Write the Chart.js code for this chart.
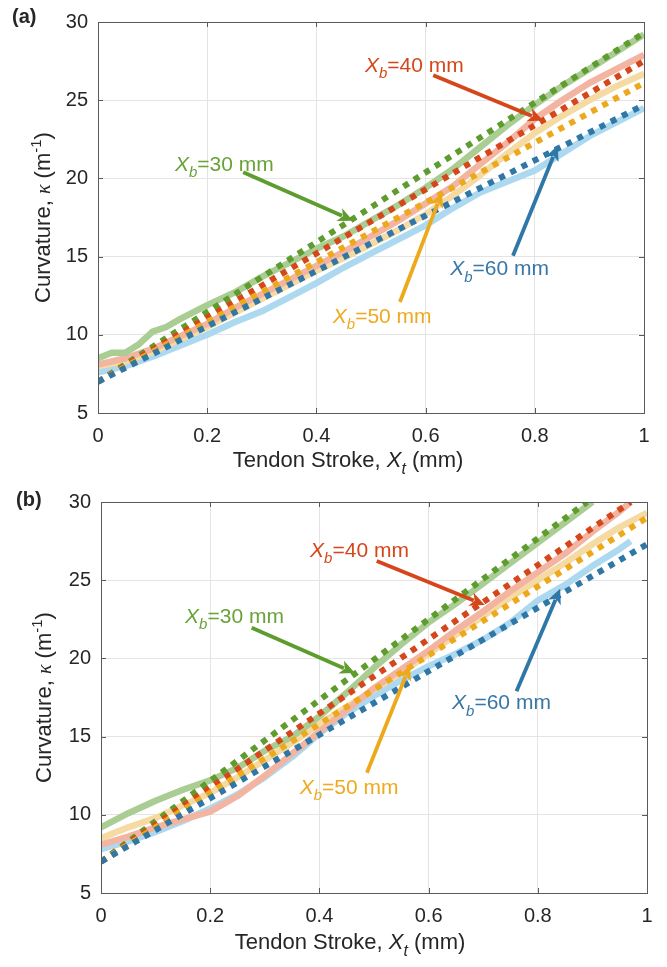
<!DOCTYPE html>
<html>
<head>
<meta charset="utf-8">
<script src="https://cdn.jsdelivr.net/npm/chart.js@4.4.0/dist/chart.umd.min.js"></script>
<style>
  html, body { margin: 0; padding: 0; background: #fff; }
  #wrap { position: relative; width: 667px; height: 967px; }
  canvas { position: absolute; left: 0; }
</style>
</head>
<body>
<div id="wrap">
  <canvas id="chartA" width="667" height="480" style="top:0"></canvas>
  <canvas id="chartB" width="667" height="487" style="top:480px"></canvas>
</div>
<script>
// ---- data ----
const stroke = [0, 0.05, 0.1, 0.15, 0.2, 0.25, 0.3, 0.35, 0.4, 0.45, 0.5,
  0.55, 0.6, 0.65, 0.7, 0.75, 0.8, 0.85, 0.9, 0.95, 1];
const modelX = [0, 1];

// (a) experiment (light solid lines)
const expA30X = [0, 0.025, 0.05, 0.075, 0.1, 0.125, 0.15, 0.2, 0.25, 0.3, 0.35, 0.4,
  0.45, 0.5, 0.55, 0.6, 0.65, 0.7, 0.75, 0.8, 0.85, 0.9, 0.95, 1];
const expA30 = [8.5, 8.85, 8.85, 9.4, 10.2, 10.5, 11.0, 11.9, 12.7, 13.7, 14.6, 15.5,
  16.3, 17.3, 18.3, 19.4, 20.6, 22.0, 23.4, 24.7, 25.9, 27.0, 28.1, 29.2];
const expA40 = [8.1, 8.5, 9.1, 9.9, 10.7, 11.7, 12.6, 13.5, 14.4, 15.3, 16.3,
  17.3, 18.4, 19.5, 20.9, 22.3, 23.8, 25.0, 26.1, 27.0, 27.9];
const expA50 = [8.0, 8.3, 8.9, 9.7, 10.5, 11.4, 12.3, 13.2, 14.1, 14.9, 15.8,
  16.7, 17.7, 18.9, 20.2, 21.6, 22.9, 24.0, 25.0, 25.9, 26.7];
const expA60 = [7.6, 8.0, 8.6, 9.3, 10.0, 10.8, 11.5, 12.4, 13.3, 14.3, 15.2,
  16.1, 17.0, 18.1, 19.1, 19.8, 20.5, 21.6, 22.7, 23.6, 24.5];
// (a) model (dotted lines)
const modelA30 = [7.0, 29.3];
const modelA40 = [7.0, 27.5];
const modelA50 = [7.0, 26.1];
const modelA60 = [7.0, 24.7];

// (b) experiment
const expB30X = [0, 0.05, 0.1, 0.15, 0.2, 0.25, 0.3, 0.35, 0.4, 0.45, 0.5,
  0.55, 0.6, 0.65, 0.7, 0.75, 0.8, 0.85, 0.9];
const expB30 = [9.2, 10.1, 10.9, 11.6, 12.2, 13.0, 14.1, 15.0, 16.3, 17.8, 19.4,
  20.9, 22.3, 23.5, 24.8, 26.1, 27.4, 28.7, 30.0];
const expB40X = [0, 0.05, 0.1, 0.15, 0.2, 0.25, 0.3, 0.35, 0.4, 0.45, 0.5,
  0.55, 0.6, 0.65, 0.7, 0.75, 0.8, 0.85, 0.9, 0.95, 0.97];
const expB40 = [8.1, 8.6, 9.2, 9.7, 10.2, 11.2, 12.5, 13.9, 15.3, 16.7, 18.1,
  19.3, 20.5, 21.8, 23.0, 24.3, 25.5, 26.7, 28.1, 29.4, 30.0];
const expB50 = [8.5, 9.2, 9.8, 10.6, 11.4, 12.4, 13.5, 14.6, 15.8, 16.9, 18.0,
  19.1, 20.3, 21.5, 22.7, 23.9, 25.0, 26.1, 27.3, 28.4, 29.3];
const expB60X = [0, 0.05, 0.1, 0.15, 0.2, 0.25, 0.3, 0.35, 0.4, 0.45, 0.5,
  0.55, 0.6, 0.65, 0.7, 0.75, 0.8, 0.85, 0.9, 0.95, 0.97];
const expB60 = [7.8, 8.3, 8.9, 9.6, 10.4, 11.3, 12.4, 13.7, 15.2, 16.5, 17.6,
  18.6, 19.5, 20.3, 21.2, 22.3, 23.7, 24.7, 25.9, 27.0, 27.5];
// (b) model
const modelB30X = [0, 0.89];
const modelB30 = [7.0, 30.0];
const modelB40X = [0, 0.97];
const modelB40 = [7.0, 30.0];
const modelB50 = [7.0, 29.0];
const modelB60 = [7.0, 27.3];

const xTicks = [0, 0.2, 0.4, 0.6, 0.8, 1];
const yTicks = [5, 10, 15, 20, 25, 30];

// ---- look ----
const FONT = '"Liberation Sans", Arial, Helvetica, sans-serif';
const INK = "#262626";
const C = {
  g: { dot: "#5e9c2e", light: "#aacd93", text: "#68a339" },
  r: { dot: "#d5471b", light: "#f3b5a1", text: "#d5471b" },
  o: { dot: "#eda91c", light: "#f6daa4", text: "#eeaa1f" },
  b: { dot: "#2f77a6", light: "#acd8f0", text: "#3877a5" },
};

// annotations: label left/baseline and arrow tail -> head, in data units
const notesA = [
  { k: "g", mm: "30", tx: 0.141, ty: 20.47, ax: 0.266, ay: 20.4, hx: 0.467, hy: 17.3 },
  { k: "r", mm: "40", tx: 0.489, ty: 26.8, ax: 0.614, ay: 26.6, hx: 0.815, hy: 23.7 },
  { k: "o", mm: "50", tx: 0.430, ty: 10.77, ax: 0.553, ay: 12.1, hx: 0.630, hy: 19.1 },
  { k: "b", mm: "60", tx: 0.645, ty: 13.8, ax: 0.760, ay: 15.06, hx: 0.842, hy: 22.1 },
];
const notesB = [
  { k: "g", mm: "30", tx: 0.154, ty: 22.27, ax: 0.276, ay: 21.96, hx: 0.465, hy: 19.06 },
  { k: "r", mm: "40", tx: 0.383, ty: 26.48, ax: 0.505, ay: 26.23, hx: 0.703, hy: 23.42 },
  { k: "o", mm: "50", tx: 0.364, ty: 11.33, ax: 0.487, ay: 12.69, hx: 0.566, hy: 19.56 },
  { k: "b", mm: "60", tx: 0.643, ty: 16.75, ax: 0.761, ay: 17.9, hx: 0.841, hy: 24.46 },
];

function pts(xs, ys) {
  return ys.map(function (y, i) { return { x: xs[i], y: y }; });
}

function solid(xs, ys, col, order) {
  return { data: pts(xs, ys), borderColor: col, borderWidth: 6.5, pointRadius: 0,
    borderCapStyle: "butt", borderJoinStyle: "round", order: order };
}
function dotted(xs, ys, col, order) {
  return { data: pts(xs, ys), borderColor: col, borderWidth: 6, pointRadius: 0,
    borderDash: [6, 6.5], borderCapStyle: "butt", order: order };
}

function partFont(kind, size) {
  if (kind === "i") return "italic " + size + "px " + FONT;
  if (kind === "sub") return "italic " + Math.round(size * 0.72) + "px " + FONT;
  if (kind === "sup") return Math.round(size * 0.7) + "px " + FONT;
  if (kind === "k") return "italic " + Math.round(size * 0.9) + "px \"Liberation Serif\", serif";
  if (kind === "b") return "bold " + size + "px " + FONT;
  return size + "px " + FONT;
}
function partShift(kind, size) {
  if (kind === "sub") return size * 0.3;
  if (kind === "sup") return -size * 0.42;
  return 0;
}
function drawRich(ctx, parts, x, y, size, align) {
  let w = 0;
  parts.forEach(function (p) { ctx.font = partFont(p[1], size); w += ctx.measureText(p[0]).width; });
  let cx = align === "center" ? x - w / 2 : x;
  ctx.textBaseline = "alphabetic";
  ctx.textAlign = "left";
  parts.forEach(function (p) {
    ctx.font = partFont(p[1], size);
    ctx.fillText(p[0], cx, y + partShift(p[1], size));
    cx += ctx.measureText(p[0]).width;
  });
}

function drawArrow(ctx, x1, y1, x2, y2, col) {
  const ang = Math.atan2(y2 - y1, x2 - x1);
  const hl = 15, hw = 7, inset = 4;
  ctx.save();
  ctx.strokeStyle = col;
  ctx.fillStyle = col;
  ctx.lineWidth = 3.8;
  ctx.lineCap = "butt";
  ctx.beginPath();
  ctx.moveTo(x1, y1);
  ctx.lineTo(x2 - Math.cos(ang) * (hl - 3), y2 - Math.sin(ang) * (hl - 3));
  ctx.stroke();
  ctx.translate(x2, y2);
  ctx.rotate(ang);
  ctx.beginPath();
  ctx.moveTo(0, 0);
  ctx.lineTo(-hl, -hw);
  ctx.lineTo(-hl + inset, 0);
  ctx.lineTo(-hl, hw);
  ctx.closePath();
  ctx.fill();
  ctx.restore();
}

const decorPlugin = {
  id: "decor",
  afterDatasetsDraw(chart, args, opts) {
    const ctx = chart.ctx, xs = chart.scales.x, ys = chart.scales.y;
    ctx.save();
    opts.notes.forEach(function (n) {
      const col = C[n.k];
      drawArrow(ctx, xs.getPixelForValue(n.ax), ys.getPixelForValue(n.ay),
        xs.getPixelForValue(n.hx), ys.getPixelForValue(n.hy), col.dot);
      ctx.fillStyle = col.text;
      drawRich(ctx, [["X", "i"], ["b", "sub"], ["=" + n.mm + " mm", "n"]],
        xs.getPixelForValue(n.tx), ys.getPixelForValue(n.ty), 21, "left");
    });
    ctx.restore();
  },
  afterDraw(chart, args, opts) {
    const ctx = chart.ctx, a = chart.chartArea, xs = chart.scales.x, ys = chart.scales.y;
    ctx.save();
    // box + inward ticks, matlab style
    ctx.strokeStyle = "#5a5a5a";
    ctx.lineWidth = 1;
    ctx.strokeRect(Math.round(a.left) + 0.5, Math.round(a.top) + 0.5,
      Math.round(a.right - a.left), Math.round(a.bottom - a.top));
    ctx.beginPath();
    xTicks.forEach(function (v) {
      const px = Math.round(xs.getPixelForValue(v)) + 0.5;
      ctx.moveTo(px, a.bottom); ctx.lineTo(px, a.bottom - 5);
      ctx.moveTo(px, a.top); ctx.lineTo(px, a.top + 5);
    });
    yTicks.forEach(function (v) {
      const py = Math.round(ys.getPixelForValue(v)) + 0.5;
      ctx.moveTo(a.left, py); ctx.lineTo(a.left + 5, py);
      ctx.moveTo(a.right, py); ctx.lineTo(a.right - 5, py);
    });
    ctx.stroke();

    ctx.fillStyle = INK;
    // panel tag
    ctx.font = "bold 20px " + FONT;
    ctx.textAlign = "left";
    ctx.textBaseline = "alphabetic";
    ctx.fillText(opts.tag, opts.tagX, opts.tagY);
    // x title
    drawRich(ctx, [["Tendon Stroke, ", "n"], ["X", "i"], ["t", "sub"], [" (mm)", "n"]],
      opts.xTitleX, opts.xTitleY, 22, "center");
    // y title
    ctx.translate(opts.yTitleX, (a.top + a.bottom) / 2);
    ctx.rotate(-Math.PI / 2);
    drawRich(ctx, [["Curvature, ", "n"], ["\u03BA", "k"], [" (m", "n"], ["-1", "sup"], [")", "n"]],
      0, 0, 22, "center");
    ctx.restore();
  },
};

function makePanel(id, box, datasets, notes, extra) {
  const W = 667;
  return new Chart(document.getElementById(id), {
    type: "line",
    data: { datasets: datasets },
    plugins: [decorPlugin],
    options: {
      responsive: false,
      animation: false,
      devicePixelRatio: 1,
      layout: { padding: { left: 0, top: box.top, right: W - box.right, bottom: 0 } },
      plugins: {
        legend: { display: false },
        tooltip: { enabled: false },
        decor: Object.assign({ notes: notes }, extra),
      },
      elements: { line: { tension: 0 } },
      scales: {
        x: {
          type: "linear", min: 0, max: 1,
          afterFit: function (s) { s.height = box.h - box.bottom; },
          afterBuildTicks: function (s) { s.ticks = xTicks.map(function (v) { return { value: v }; }); },
          ticks: {
            padding: 11, color: INK, maxRotation: 0,
            font: { family: FONT, size: 20 },
            callback: function (v) { return String(Math.round(v * 10) / 10); },
          },
          grid: { color: "#e4e4e4", lineWidth: 1, drawTicks: false },
          border: { display: false },
        },
        y: {
          type: "linear", min: 5, max: 30,
          afterFit: function (s) { s.width = box.left; },
          afterBuildTicks: function (s) { s.ticks = yTicks.map(function (v) { return { value: v }; }); },
          ticks: { padding: 10, color: INK, font: { family: FONT, size: 20 } },
          grid: { color: "#e4e4e4", lineWidth: 1, drawTicks: false },
          border: { display: false },
        },
      },
    },
  });
}

makePanel("chartA", { left: 98, top: 14, right: 644, bottom: 413, h: 480 }, [
  dotted(modelX, modelA60, C.b.dot, 0),
  dotted(modelX, modelA50, C.o.dot, 1),
  dotted(modelX, modelA40, C.r.dot, 2),
  dotted(modelX, modelA30, C.g.dot, 3),
  solid(expA30X, expA30, C.g.light, 4),
  solid(stroke, expA40, C.r.light, 5),
  solid(stroke, expA50, C.o.light, 6),
  solid(stroke, expA60, C.b.light, 7),
], notesA, { tag: "(a)", tagX: 12, tagY: 23, xTitleX: 348, xTitleY: 467, yTitleX: 50 });

makePanel("chartB", { left: 101, top: 13, right: 647, bottom: 413, h: 487 }, [
  dotted(modelX, modelB60, C.b.dot, 0),
  dotted(modelX, modelB50, C.o.dot, 1),
  dotted(modelB40X, modelB40, C.r.dot, 2),
  dotted(modelB30X, modelB30, C.g.dot, 3),
  solid(expB30X, expB30, C.g.light, 4),
  solid(expB40X, expB40, C.r.light, 5),
  solid(stroke, expB50, C.o.light, 6),
  solid(expB60X, expB60, C.b.light, 7),
], notesB, { tag: "(b)", tagX: 16, tagY: 26, xTitleX: 350, xTitleY: 469, yTitleX: 51 });
</script>
</body>
</html>
